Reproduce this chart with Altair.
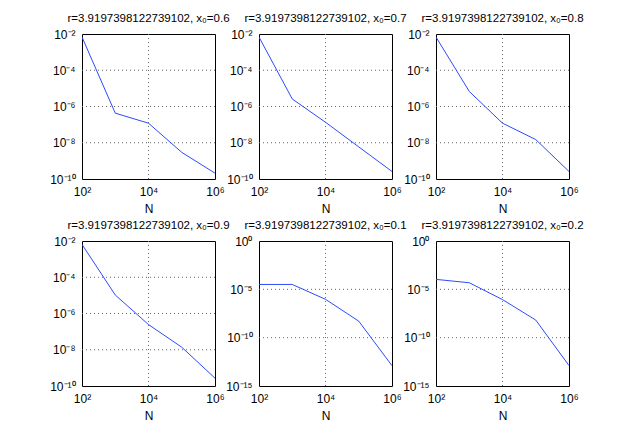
import altair as alt
import pandas as pd

r_str = "3.9197398122739102"
x0_values = ["0.6", "0.7", "0.8", "0.9", "0.1", "0.2"]
N_values = [1e2, 1e3, 1e4, 1e5, 1e6]

err_x06 = [6.8e-3, 4.3e-7, 1.2e-7, 2.95e-9, 2.1e-10]
err_x07 = [6.8e-3, 2.6e-6, 1.35e-7, 5.9e-9, 2.6e-10]
err_x08 = [6.8e-3, 6.8e-6, 1.2e-7, 1.5e-8, 2.6e-10]
err_x09 = [6.5e-3, 1.05e-5, 2.45e-7, 1.38e-8, 2.7e-10]
err_x01 = [3.2e-5, 3.2e-5, 9.3e-7, 5.1e-9, 1.26e-13]
err_x02 = [1.07e-4, 4.8e-5, 8.7e-7, 6.6e-9, 1.3e-13]
series = [err_x06, err_x07, err_x08, err_x09, err_x01, err_x02]

x_ticks = [1e2, 1e4, 1e6]
x_grid = [1e4]
y_ticks_a = [1e-10, 1e-8, 1e-6, 1e-4, 1e-2]
y_grid_a = [1e-8, 1e-6, 1e-4]
y_ticks_b = [1e-15, 1e-10, 1e-5, 1e0]
y_grid_b = [1e-10, 1e-5]
y_domain_a = [1e-10, 1e-2]
y_domain_b = [1e-15, 1e0]

SUP = str.maketrans("0123456789-", "⁰¹²³⁴⁵⁶⁷⁸⁹⁻")


def label_expr(exps):
    expr = "''"
    for e in exps:
        expr = f"round(log(datum.value)/LN10) == {e} ? '10{str(e).translate(SUP)}' : ({expr})"
    return expr


FONT = "Liberation Sans"
GRID_DASH = [1, 3]


def panel(i):
    df = pd.DataFrame({"N": N_values, "err": series[i]})
    if i in (4, 5):
        ydom, yt, yg = y_domain_b, y_ticks_b, y_grid_b
        yexps = [0, -5, -10, -15]
    else:
        ydom, yt, yg = y_domain_a, y_ticks_a, y_grid_a
        yexps = [-2, -4, -6, -8, -10]
    xs = alt.Scale(type="log", domain=[1e2, 1e6], nice=False)
    ys = alt.Scale(type="log", domain=ydom, nice=False)
    line = alt.Chart(df).mark_line(color="#2a4bff", strokeWidth=1, clip=True).encode(
        x=alt.X("N:Q", scale=xs,
                axis=alt.Axis(values=x_ticks, labelExpr=label_expr([2, 4, 6]),
                              title="N", labelFlush=False, ticks=False, grid=False,
                              domain=False, labelPadding=7, titlePadding=6)),
        y=alt.Y("err:Q", scale=ys,
                axis=alt.Axis(values=yt, labelExpr=label_expr(yexps),
                              title=None, ticks=False, domain=False, grid=False,
                              labelPadding=7)),
    )
    vgrid = alt.Chart(pd.DataFrame({"g": x_grid})).mark_rule(
        color="#666666", strokeDash=GRID_DASH, strokeWidth=1).encode(
        x=alt.X("g:Q", scale=xs))
    hgrid = alt.Chart(pd.DataFrame({"g": yg})).mark_rule(
        color="#666666", strokeDash=GRID_DASH, strokeWidth=1).encode(
        y=alt.Y("g:Q", scale=ys))
    return alt.layer(vgrid, hgrid, line).properties(
        width=133, height=145,
        title=alt.TitleParams(text=f"r={r_str}, x₀={x0_values[i]}",
                              fontSize=11.5, fontWeight="normal", font=FONT,
                              offset=4, color="black"),
    )


chart = alt.concat(*[panel(i) for i in range(6)], columns=3,
                   spacing=alt.RowColnumber(row=62, column=44)).properties(
    bounds="flush",
    padding={"left": 41, "top": 4, "right": 5, "bottom": 5},
).configure(font=FONT).configure_view(
    stroke="black", strokeWidth=1
).configure_axis(
    labelFont=FONT, titleFont=FONT, labelFontSize=12, titleFontSize=12,
    labelColor="black", titleColor="black", titleFontWeight="normal",
)

chart.save("out.html", embed_options={"renderer": "svg", "actions": False})
